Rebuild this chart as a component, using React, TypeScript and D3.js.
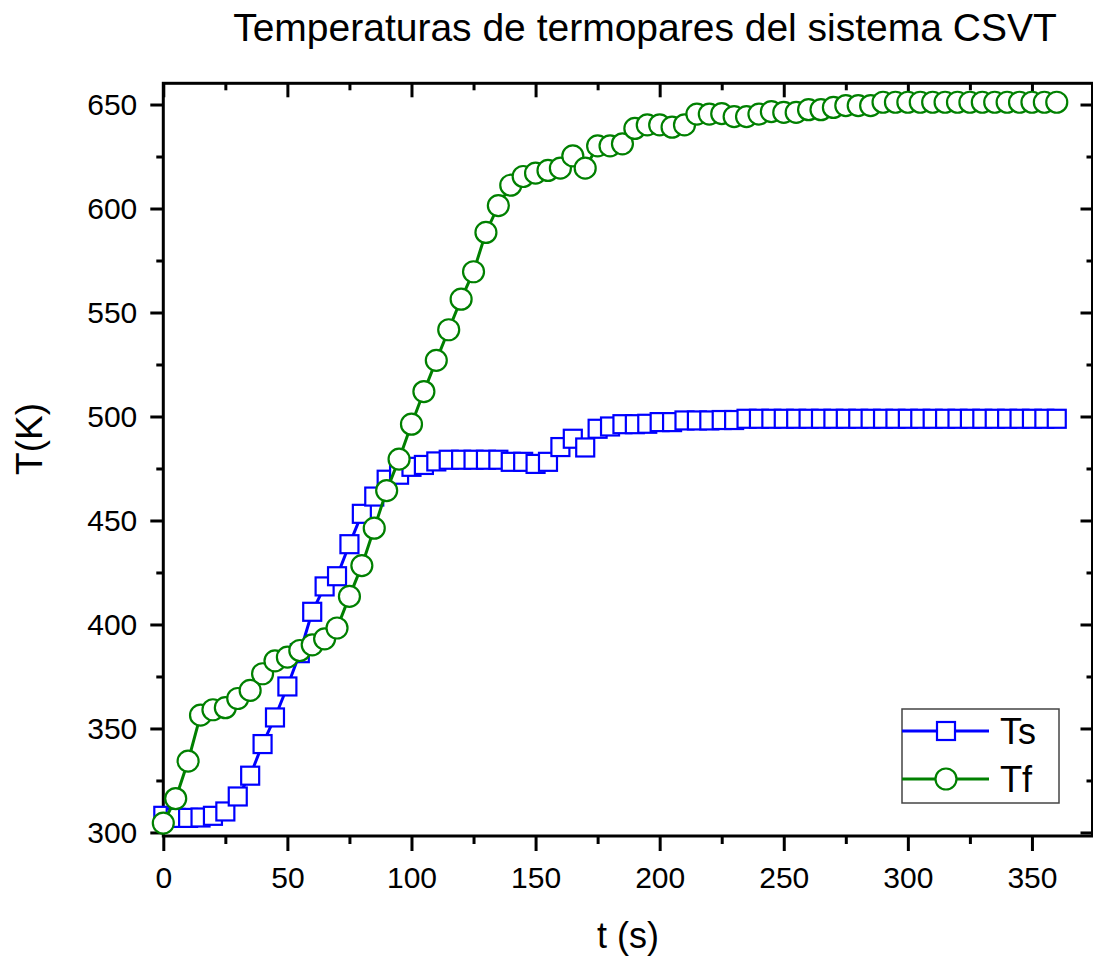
import React, { useEffect, useRef } from 'react';
import * as d3 from 'd3';

// time (s), one sample every 5 s
const times = [
  0, 5, 10, 15, 20, 25, 30, 35, 40, 45, 50, 55, 60, 65, 70, 75, 80, 85, 90, 95,
  100, 105, 110, 115, 120, 125, 130, 135, 140, 145, 150, 155, 160, 165, 170, 175, 180, 185, 190, 195,
  200, 205, 210, 215, 220, 225, 230, 235, 240, 245, 250, 255, 260, 265, 270, 275, 280, 285, 290, 295,
  300, 305, 310, 315, 320, 325, 330, 335, 340, 345, 350, 355, 360,
];

// Ts (K)
const tsValues = [
  308, 307, 307, 307.2, 308, 310.1, 317.3, 327.3, 342.5, 355.3, 370.2, 386.2, 406.1, 418.3, 423.2, 438.6, 453.2, 461.5, 469.6, 472,
  475.8, 476.7, 478.4, 479.2, 479.2, 479.2, 479.2, 479.2, 478.2, 478.2, 477.2, 478.2, 485.3, 489.3, 485.1, 494.1, 495.2, 496.3, 496.3, 496.5,
  497.3, 497.3, 498.1, 498.1, 498.1, 498.3, 498.3, 498.9, 498.9, 498.9, 498.9, 498.9, 498.9, 498.9, 498.9, 498.9, 498.9, 498.9, 498.9, 498.9,
  498.9, 498.9, 498.9, 498.9, 498.9, 498.9, 498.9, 498.9, 498.9, 498.9, 498.9, 498.9, 498.9,
];

// Tf (K)
const tfValues = [
  304.5, 316.3, 334.3, 356.4, 359, 360, 364.4, 368.3, 376.3, 382.5, 384.3, 387.5, 390.2, 393.1, 398.3, 413.5, 428.3, 446.3, 464.4, 479.5,
  496.3, 512, 527, 541.7, 556.4, 569.6, 588.5, 601.4, 611.2, 615.4, 617, 618.3, 619.4, 625.3, 619.4, 630.1, 630.1, 631.1, 638.5, 640.2,
  640.2, 639.1, 640.2, 645.4, 645.4, 645.6, 644.2, 644.2, 645.4, 646.6, 646.2, 646.2, 647.5, 647.5, 648.6, 649.5, 649.5, 649.5, 651.1, 651.1,
  651.1, 651.1, 651.1, 651.1, 651.1, 651.1, 651.1, 651.1, 651.1, 651.1, 651.1, 651.1, 651.1,
];

const xMajor = [0, 50, 100, 150, 200, 250, 300, 350];
const xMinor = [25, 75, 125, 175, 225, 275, 325];
const yMajor = [300, 350, 400, 450, 500, 550, 600, 650];
const yMinor = [325, 375, 425, 475, 525, 575, 625];

const FONT = '"Liberation Sans", Arial, sans-serif';
const BLUE = '#0000ff';
const GREEN = '#008000';

const App = () => {
  const svgRef = useRef<SVGSVGElement>(null);

  useEffect(() => {
    const width = 1093;
    const height = 958;
    const plot = { left: 163.3, right: 1092.5, top: 83.3, bottom: 836 };

    const svg = d3.select(svgRef.current).attr('width', width).attr('height', height);
    svg.selectAll('*').remove();

    const x = d3.scaleLinear().domain([0, 374.4]).range([plot.left, plot.right]);
    const y = d3.scaleLinear().domain([298.3, 660.2]).range([plot.bottom, plot.top]);

    const styleAxis = (g) => {
      g.select('.domain').remove();
      g.selectAll('line').attr('stroke', '#000').attr('stroke-width', 3);
      g.selectAll('text').attr('font-family', FONT).attr('font-size', 30).attr('fill', '#000');
    };

    // bottom axis
    svg.append('g')
      .attr('transform', `translate(0,${plot.bottom})`)
      .call(d3.axisBottom(x).tickValues(xMajor).tickSize(15).tickPadding(16).tickFormat(d3.format('d')))
      .call(styleAxis);
    svg.append('g')
      .attr('transform', `translate(0,${plot.bottom})`)
      .call(d3.axisBottom(x).tickValues(xMinor).tickSize(8).tickFormat(() => ''))
      .call(styleAxis);

    // top axis (inward ticks)
    svg.append('g')
      .attr('transform', `translate(0,${plot.top})`)
      .call(d3.axisTop(x).tickValues(xMajor).tickSize(-14).tickFormat(() => ''))
      .call(styleAxis);
    svg.append('g')
      .attr('transform', `translate(0,${plot.top})`)
      .call(d3.axisTop(x).tickValues(xMinor).tickSize(-7).tickFormat(() => ''))
      .call(styleAxis);

    // left axis
    svg.append('g')
      .attr('transform', `translate(${plot.left},0)`)
      .call(d3.axisLeft(y).tickValues(yMajor).tickSize(13).tickPadding(13).tickFormat(d3.format('d')))
      .call(styleAxis);
    svg.append('g')
      .attr('transform', `translate(${plot.left},0)`)
      .call(d3.axisLeft(y).tickValues(yMinor).tickSize(7).tickFormat(() => ''))
      .call(styleAxis);

    // right axis (inward ticks)
    svg.append('g')
      .attr('transform', `translate(${plot.right},0)`)
      .call(d3.axisRight(y).tickValues(yMajor).tickSize(-12).tickFormat(() => ''))
      .call(styleAxis);
    svg.append('g')
      .attr('transform', `translate(${plot.right},0)`)
      .call(d3.axisRight(y).tickValues(yMinor).tickSize(-6).tickFormat(() => ''))
      .call(styleAxis);

    // frame
    svg.append('rect')
      .attr('x', plot.left)
      .attr('y', plot.top)
      .attr('width', plot.right - plot.left)
      .attr('height', plot.bottom - plot.top)
      .attr('fill', 'none')
      .attr('stroke', '#000')
      .attr('stroke-width', 3);

    const line = d3.line<number>()
      .x((d, i) => x(times[i]))
      .y(d => y(d));

    // Ts series
    svg.append('path')
      .datum(tsValues)
      .attr('d', line)
      .attr('fill', 'none')
      .attr('stroke', BLUE)
      .attr('stroke-width', 3);

    const sq = 18;
    svg.selectAll('.ts-mark')
      .data(tsValues)
      .enter()
      .append('rect')
      .attr('class', 'ts-mark')
      .attr('x', (d, i) => x(times[i]) - sq / 2)
      .attr('y', d => y(d) - sq / 2)
      .attr('width', sq)
      .attr('height', sq)
      .attr('fill', '#fff')
      .attr('stroke', BLUE)
      .attr('stroke-width', 2.2);

    // Tf series
    svg.append('path')
      .datum(tfValues)
      .attr('d', line)
      .attr('fill', 'none')
      .attr('stroke', GREEN)
      .attr('stroke-width', 3);

    svg.selectAll('.tf-mark')
      .data(tfValues)
      .enter()
      .append('circle')
      .attr('class', 'tf-mark')
      .attr('cx', (d, i) => x(times[i]))
      .attr('cy', d => y(d))
      .attr('r', 10.5)
      .attr('fill', '#fff')
      .attr('stroke', GREEN)
      .attr('stroke-width', 2.2);

    // title
    svg.append('text')
      .attr('x', 645)
      .attr('y', 41)
      .attr('text-anchor', 'middle')
      .attr('font-family', FONT)
      .attr('font-size', 39)
      .text('Temperaturas de termopares del sistema CSVT');

    // axis labels
    svg.append('text')
      .attr('x', (plot.left + plot.right) / 2)
      .attr('y', 948)
      .attr('text-anchor', 'middle')
      .attr('font-family', FONT)
      .attr('font-size', 36)
      .text('t (s)');

    svg.append('text')
      .attr('transform', 'translate(42,439) rotate(-90)')
      .attr('text-anchor', 'middle')
      .attr('font-family', FONT)
      .attr('font-size', 37)
      .text('T(K)');

    // legend
    const lg = svg.append('g');
    lg.append('rect')
      .attr('x', 902)
      .attr('y', 709)
      .attr('width', 157)
      .attr('height', 94)
      .attr('fill', '#fff')
      .attr('stroke', '#444')
      .attr('stroke-width', 1.5);

    const items = [
      { name: 'Ts', color: BLUE, shape: 'square', cy: 731 },
      { name: 'Tf', color: GREEN, shape: 'circle', cy: 779 },
    ];
    items.forEach(it => {
      lg.append('line')
        .attr('x1', 902).attr('x2', 989)
        .attr('y1', it.cy).attr('y2', it.cy)
        .attr('stroke', it.color)
        .attr('stroke-width', 3);
      if (it.shape === 'square') {
        lg.append('rect')
          .attr('x', 946 - sq / 2).attr('y', it.cy - sq / 2)
          .attr('width', sq).attr('height', sq)
          .attr('fill', '#fff').attr('stroke', it.color).attr('stroke-width', 2.2);
      } else {
        lg.append('circle')
          .attr('cx', 946).attr('cy', it.cy).attr('r', 10.5)
          .attr('fill', '#fff').attr('stroke', it.color).attr('stroke-width', 2.2);
      }
      lg.append('text')
        .attr('x', 1000)
        .attr('y', it.cy + 12.5)
        .attr('font-family', FONT)
        .attr('font-size', 36)
        .text(it.name);
    });
  }, []);

  return (
    <svg ref={svgRef} style={{ position: 'absolute', left: 0, top: 0, display: 'block' }}></svg>
  );
};

export default App;
